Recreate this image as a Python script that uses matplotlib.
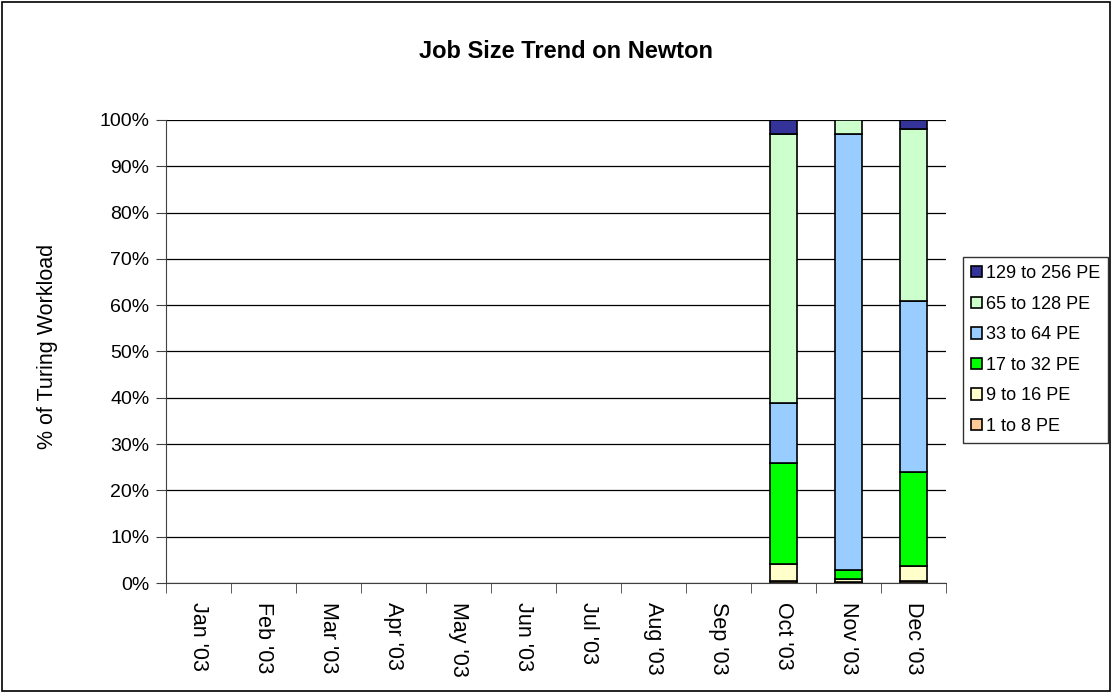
import matplotlib
matplotlib.use("Agg")
import matplotlib.pyplot as plt
import numpy as np

plt.rcParams['font.family'] = ['Liberation Sans', 'DejaVu Sans']

months = ["Jan '03", "Feb '03", "Mar '03", "Apr '03", "May '03", "Jun '03",
          "Jul '03", "Aug '03", "Sep '03", "Oct '03", "Nov '03", "Dec '03"]

# percent of workload per month (only Oct-Dec have data)
pe_1_8 = [0, 0, 0, 0, 0, 0, 0, 0, 0, 0.5, 0.2, 0.4]
pe_9_16 = [0, 0, 0, 0, 0, 0, 0, 0, 0, 3.5, 0.6, 3.2]
pe_17_32 = [0, 0, 0, 0, 0, 0, 0, 0, 0, 22.0, 1.9, 20.4]
pe_33_64 = [0, 0, 0, 0, 0, 0, 0, 0, 0, 12.9, 94.3, 37.0]
pe_65_128 = [0, 0, 0, 0, 0, 0, 0, 0, 0, 58.1, 3.0, 37.0]
pe_129_256 = [0, 0, 0, 0, 0, 0, 0, 0, 0, 3.0, 0.0, 2.0]

series = [
    ("1 to 8 PE", pe_1_8, "#FFCC99"),
    ("9 to 16 PE", pe_9_16, "#FFFFCC"),
    ("17 to 32 PE", pe_17_32, "#00FF00"),
    ("33 to 64 PE", pe_33_64, "#99CCFF"),
    ("65 to 128 PE", pe_65_128, "#CCFFCC"),
    ("129 to 256 PE", pe_129_256, "#333399"),
]

fig = plt.figure(figsize=(11.13, 6.92), dpi=100)
ax = fig.add_axes([166 / 1113, 1 - 583 / 692, 780 / 1113, 463 / 692])

# outer border of the chart
fig.patches.append(plt.Rectangle((0.002, 0.002), 0.995, 0.995, transform=fig.transFigure,
                                 fill=False, edgecolor="black", linewidth=1.2))

x = np.arange(len(months))
bottom = np.zeros(len(months))
handles = []
for label, vals, color in series:
    vals = np.array(vals, dtype=float)
    mask = vals > 0
    b = ax.bar(x[mask], vals[mask], width=0.43, bottom=bottom[mask], color=color,
               edgecolor="black", linewidth=1.2, label=label, zorder=3)
    handles.append(b)
    bottom += vals

ax.set_xlim(-0.5, len(months) - 0.5)
ax.set_ylim(0, 100)
ax.set_yticks(np.arange(0, 101, 10))
ax.set_yticklabels([f"{v}%" for v in range(0, 101, 10)], fontsize=14)
ax.yaxis.grid(True, color="black", linewidth=0.9, zorder=0)
ax.set_axisbelow(True)

ax.set_xticks(x)
ax.set_xticklabels(months, rotation=270, fontsize=15.5)
ax.set_xticks(np.arange(-0.5, len(months)), minor=True)
ax.tick_params(axis="x", which="major", length=0, pad=14)
ax.tick_params(axis="x", which="minor", length=7, direction="out", color="#404040")
ax.tick_params(axis="y", length=7, direction="out", color="#404040", pad=5)

for side in ["top", "right"]:
    ax.spines[side].set_visible(False)
ax.spines["left"].set_color("#404040")
ax.spines["bottom"].set_color("#404040")

ax.set_ylabel("% of Turing Workload", fontsize=15.5)
ax.yaxis.set_label_coords(58 / 1113, 0.5, transform=fig.transFigure)
fig.text(566 / 1113, 1 - 52 / 692, "Job Size Trend on Newton", ha="center", va="center",
         fontsize=17, fontweight="bold")

leg = fig.legend(handles[::-1], [s[0] for s in series][::-1],
                 loc="upper left", bbox_to_anchor=(963 / 1113, 1 - 257 / 692),
                 fontsize=13, frameon=True, fancybox=False, edgecolor="black",
                 handlelength=0.6, handleheight=0.6, handletextpad=0.2,
                 labelspacing=0.75, borderpad=0.45, borderaxespad=0)
leg.get_frame().set_linewidth(1.0)

fig.savefig("out.png", dpi=100)
